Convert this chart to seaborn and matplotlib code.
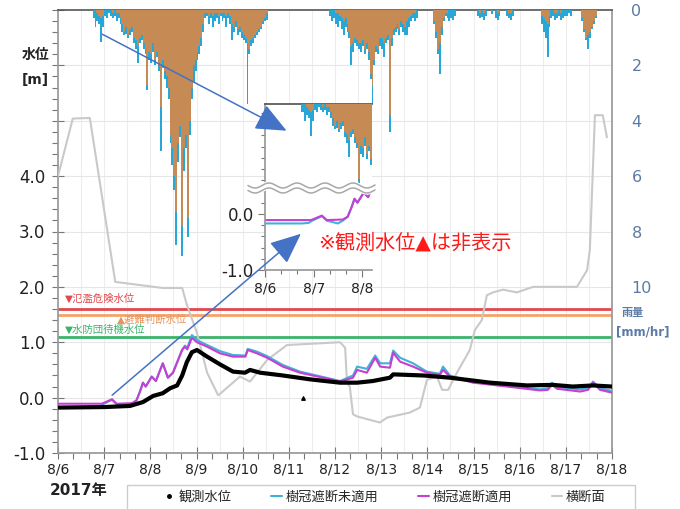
import numpy as np
import matplotlib
matplotlib.use('Agg')
import matplotlib.pyplot as plt
import seaborn as sns
from matplotlib.lines import Line2D
from matplotlib.patches import FancyArrowPatch, Rectangle
from matplotlib.ticker import MultipleLocator

day_labels = ['8/6', '8/7', '8/8', '8/9', '8/10', '8/11', '8/12',
              '8/13', '8/14', '8/15', '8/16', '8/17', '8/18']

# hourly rainfall [mm/hr], one row per day (8/6 ... 8/17)
rain_orange = [
    [0]*18 + [0, 0, 0.1, 0.2, 0.3, 0.2],
    [0, 0, 0, 0, 0.1, 0, 0.1, 0.1, 0.3, 0.5, 0.8, 0.6, 0.9, 0.7, 0.6, 1.0, 1.1, 1.3, 1.0, 0.9, 1.2, 1.4, 2.7, 1.5],
    [1.6, 1.2, 1.8, 1.5, 2.0, 3.5, 1.8, 2.2, 2.4, 2.8, 4.5, 5.0, 6.0, 7.3, 4.8, 4.2, 7.8, 5.0, 4.5, 7.5, 4.0, 2.8, 2.0, 1.8],
    [1.5, 1.3, 1.0, 0.5, 0.1, 0.1, 0.2, 0.1, 0.2, 0.1, 0.1, 0.2, 0.1, 0.1, 0.1, 0.2, 0.1, 0.2, 0.5, 0.6, 0.4, 0.7, 0.6, 0.8],
    [0.9, 1.0, 1.2, 1.4, 1.1, 1.0, 0.9, 0.8, 0.7, 0.6, 0.4, 0.3, 0.1] + [0]*11,
    [0]*24,
    [0.1, 0.1, 0.2, 0.3, 0.4, 0.3, 0.5, 0.8, 1.3, 1.2, 1.0, 1.1, 1.2, 1.2, 1.1, 1.4, 1.2, 1.5, 2.3, 2.7, 1.8, 1.3, 1.4, 1.0],
    [1.0, 1.2, 1.0, 0.9, 3.8, 1.0, 0.7, 0.6, 0.5, 0.7, 0.4, 0.5, 0.6, 0.4, 0.3, 0.2, 0.1, 0.1] + [0]*6,
    [0, 0, 0, 0.4, 0.8, 1.4, 1.2, 0.6, 0.3, 0.1, 0.1] + [0]*13,
    [0, 0, 0, 0.1, 0, 0.1, 0, 0, 0, 0, 0, 0, 0.1, 0, 0, 0, 0, 0, 0.1, 0.1, 0, 0, 0, 0],
    [0]*11 + [0.2, 0.3, 0.4, 0.5, 0.2, 0, 0, 0.1, 0.1, 0, 0.1, 0, 0],
    [0]*8 + [0.3, 0.7, 1.0, 0.9, 0.8, 0.6, 0.4, 0.2] + [0]*8,
]
rain_cyan = [
    [0]*18 + [0.3, 0.6, 0.4, 0.5, 1.15, 0.6],
    [0.2, 0.3, 0.1, 0.2, 0.3, 0.2, 0.4, 0.3, 0.5, 0.8, 0.9, 0.85, 1.0, 0.9, 0.8, 1.2, 1.4, 1.9, 1.2, 1.1, 1.4, 1.6, 2.9, 1.8],
    [1.9, 1.5, 2.0, 1.7, 2.2, 5.1, 2.1, 2.5, 2.8, 3.2, 4.8, 5.6, 6.5, 8.5, 5.5, 4.6, 8.9, 5.8, 5.0, 8.2, 4.5, 3.2, 2.6, 2.2],
    [1.8, 1.6, 1.3, 0.8, 0.3, 0.2, 0.5, 0.3, 0.6, 0.4, 0.3, 0.5, 0.2, 0.4, 0.3, 0.6, 0.3, 0.5, 1.1, 0.8, 0.6, 0.9, 0.8, 1.0],
    [1.1, 1.2, 3.4, 1.6, 1.3, 1.2, 1.0, 0.9, 0.8, 0.7, 0.5, 0.4, 0.35] + [0]*11,
    [0]*21 + [0.2, 0.4, 0.3],
    [0.5, 0.6, 0.4, 0.7, 0.9, 0.6, 0.8, 1.0, 2.0, 1.5, 1.2, 1.3, 1.4, 1.5, 1.3, 1.6, 1.4, 1.8, 2.5, 3.4, 2.0, 1.5, 1.6, 1.3],
    [1.4, 1.7, 1.2, 1.1, 4.4, 1.3, 0.9, 0.8, 0.7, 0.9, 0.6, 0.8, 0.9, 0.9, 0.6, 0.4, 0.3, 0.4, 0.3] + [0]*5,
    [0, 0, 0, 0.5, 1.0, 1.6, 2.3, 0.9, 0.4, 0.2, 0.3, 0.4, 0.3, 0.35, 0.2] + [0]*9,
    [0, 0, 0.2, 0.3, 0.25, 0.35, 0.2, 0, 0, 0.15, 0, 0.3, 0.35, 0.2, 0, 0, 0, 0.2, 0.3, 0.35, 0.2, 0, 0, 0],
    [0]*11 + [0.5, 0.8, 1.0, 1.7, 0.6, 0.3, 0.2, 0.35, 0.3, 0.2, 0.35, 0.3, 0.2],
    [0.2, 0.1, 0.2, 0, 0, 0, 0, 0, 0.4, 0.8, 1.1, 1.4, 1.0, 0.7, 0.5, 0.3] + [0]*8,
]

# water levels [m], time in days from 8/6 0:00
obs_t = [0, 1.02, 1.56, 1.84, 2.06, 2.27, 2.43, 2.58, 2.69, 2.79, 2.90, 3.01, 3.23, 3.51, 3.79,
         4.05, 4.16, 4.38, 4.87, 5.46, 6.11, 6.48, 6.82, 7.19, 7.26, 7.91, 8.49, 9.36, 10.16,
         10.72, 11.15, 11.59, 12.0]
obs_v = [-0.18, -0.17, -0.15, -0.08, 0.03, 0.08, 0.17, 0.22, 0.40, 0.64, 0.82, 0.86, 0.74, 0.60, 0.47,
         0.45, 0.50, 0.45, 0.40, 0.33, 0.27, 0.27, 0.30, 0.36, 0.42, 0.40, 0.36, 0.27, 0.22,
         0.23, 0.20, 0.22, 0.20]

obs_pt_t = [5.31]
obs_pt_v = [0.0]

tek_t = [0, 0.95, 1.17, 1.27, 1.6, 1.7, 1.78, 1.84, 1.9, 2.03, 2.12, 2.27, 2.38, 2.49, 2.69, 2.75,
         2.8, 2.9, 3.01, 3.23, 3.51, 3.79, 4.06, 4.11, 4.31, 4.53, 4.87, 5.24, 5.96, 6.11, 6.39,
         6.48, 6.69, 6.87, 6.98, 7.19, 7.26, 7.41, 7.69, 7.99, 8.27, 8.34, 8.49, 8.99, 9.73,
         10.44, 10.61, 10.70, 10.81, 11.31, 11.48, 11.59, 11.74, 12.0]
tek_v = [-0.11, -0.11, -0.03, -0.11, -0.10, -0.05, 0.12, 0.27, 0.20, 0.38, 0.30, 0.62, 0.36, 0.45, 0.86, 0.92,
         0.87, 1.08, 1.00, 0.92, 0.80, 0.74, 0.74, 0.86, 0.80, 0.72, 0.56, 0.45, 0.32, 0.29, 0.36,
         0.50, 0.45, 0.72, 0.56, 0.54, 0.81, 0.65, 0.56, 0.45, 0.41, 0.50, 0.38, 0.27, 0.20,
         0.13, 0.14, 0.23, 0.16, 0.11, 0.14, 0.27, 0.14, 0.09]

mi_t = [0, 0.76, 0.9, 0.97, 1.17, 1.27, 1.5, 1.6, 1.7, 1.78, 1.84, 1.9, 2.03, 2.12, 2.27, 2.38, 2.49,
        2.69, 2.75, 2.8, 2.9, 3.01, 3.23, 3.51, 3.79, 4.06, 4.11, 4.31, 4.53, 4.87, 5.24, 5.96,
        6.11, 6.39, 6.48, 6.69, 6.87, 6.98, 7.19, 7.26, 7.41, 7.69, 7.99, 8.27, 8.34, 8.49, 8.99,
        9.73, 10.44, 10.61, 10.70, 10.81, 11.31, 11.48, 11.59, 11.74, 12.0]
mi_v = [-0.17, -0.17, -0.16, -0.12, -0.04, -0.12, -0.17, -0.12, -0.05, 0.12, 0.27, 0.20, 0.38, 0.30, 0.62,
        0.36, 0.45, 0.87, 0.94, 0.90, 1.13, 1.04, 0.95, 0.84, 0.77, 0.76, 0.88, 0.83, 0.75, 0.59,
        0.47, 0.33, 0.30, 0.40, 0.56, 0.52, 0.76, 0.62, 0.62, 0.85, 0.72, 0.62, 0.47, 0.43, 0.56,
        0.40, 0.28, 0.21, 0.15, 0.17, 0.27, 0.19, 0.15, 0.17, 0.29, 0.17, 0.12]

# cross-section profile (drawn on the same axes)
cs_t = [0, 0.32, 0.69, 1.24, 2.27, 2.69, 2.79, 3.01, 3.23, 3.47, 3.94, 4.16, 4.53, 4.96, 6.11,
        6.22, 6.26, 6.32, 6.39, 6.48, 6.97, 7.13, 7.62, 7.84, 7.99, 8.21, 8.32, 8.45, 8.64,
        8.92, 9.03, 9.18, 9.29, 9.42, 9.64, 9.94, 10.29, 11.24, 11.46, 11.52, 11.63, 11.80, 11.89]
cs_v = [4.0, 5.04, 5.05, 2.09, 1.98, 1.98, 1.68, 1.17, 0.45, 0.04, 0.38, 0.29, 0.68, 0.95, 1.0,
        0.9, 0.27, 0.2, -0.3, -0.34, -0.45, -0.36, -0.27, -0.18, 0.32, 0.38, 0.14, 0.14, 0.45,
        0.86, 1.22, 1.4, 1.85, 1.9, 1.95, 1.9, 2.0, 2.0, 2.3, 2.67, 5.1, 5.1, 4.7]

levels = [1.6, 1.5, 1.1]
level_names = ['▼氾濫危険水位', '▲避難判断水位', '▼水防団待機水位']
level_colors = ['#e2474d', '#f3a468', '#3bb36b']

c_cyan_rain = '#27a6d8'
c_orange_rain = '#c68a55'
c_mi = '#3fb3d6'
c_tek = '#c63fd2'
c_cs = '#c9c9c9'

sns.set_theme(style='white')
plt.rcParams['font.family'] = ['DejaVu Sans', 'Noto Sans CJK JP']

W, H = 680, 509
def box(x0, y0, x1, y1):
    return [x0 / W, 1 - y1 / H, (x1 - x0) / W, (y1 - y0) / H]

fig = plt.figure(figsize=(6.8, 5.09), dpi=100)
ax = fig.add_axes(box(58, 10, 612, 453))

edges = np.arange(12 * 24 + 1) / 24
r_cyan = np.concatenate(rain_cyan)
r_orange = np.concatenate(rain_orange)

ax.set_xlim(0, 12)
ax.set_ylim(-1, 7)
for d in np.arange(0.5, 12, 0.5):
    ax.axvline(d, color='#ededed', lw=0.8, zorder=0)
for v in range(0, 7):
    ax.axhline(v, color='#e6e6e6', lw=0.8, zorder=0)

for lv, col in zip(levels, level_colors):
    ax.axhline(lv, color=col, lw=2, zorder=2)
ax.text(0.15, 1.78, level_names[0], color=level_colors[0], fontsize=7.5, va='center')
ax.text(1.28, 1.40, level_names[1], color='#e8945a', fontsize=7.5, va='center')
ax.text(0.15, 1.22, level_names[2], color=level_colors[2], fontsize=7.5, va='center')

sns.lineplot(x=cs_t, y=cs_v, ax=ax, color=c_cs, lw=1.5, estimator=None, sort=False, zorder=3)
sns.lineplot(x=mi_t, y=mi_v, ax=ax, color=c_mi, lw=1.5, estimator=None, sort=False, zorder=4)
sns.lineplot(x=tek_t, y=tek_v, ax=ax, color=c_tek, lw=1.5, estimator=None, sort=False, zorder=5)
sns.lineplot(x=obs_t, y=obs_v, ax=ax, color='black', lw=3, estimator=None, sort=False, zorder=6)
ax.scatter(obs_pt_t, obs_pt_v, marker='^', s=6, color='black', zorder=6)

ax.set_xticks(range(13))
ax.set_xticklabels(day_labels)
ax.xaxis.set_minor_locator(MultipleLocator(1 / 3))
ax.set_yticks(range(-1, 8))
ax.set_yticklabels(['-1.0', '0.0', '1.0', '2.0', '3.0', '4.0', '', '', ''])
ax.yaxis.set_minor_locator(MultipleLocator(0.2))
ax.tick_params(axis='y', which='major', direction='inout', length=8, width=0.8,
               color='#777777', labelsize=12, labelcolor='#222222', pad=5, left=True)
ax.tick_params(axis='y', which='minor', direction='out', length=4, width=0.8, color='#777777', left=True)
ax.tick_params(axis='x', which='major', direction='inout', length=8, width=0.8,
               color='#777777', labelsize=10, labelcolor='#222222', pad=3, bottom=True)
ax.tick_params(axis='x', which='minor', direction='out', length=4, width=0.8, color='#777777', bottom=True)
ax.set_xlabel('')
ax.set_ylabel('')
for s in ['left', 'bottom', 'right']:
    ax.spines[s].set_color('#999999')
ax.spines['top'].set_color('#555555')
ax.spines['top'].set_linewidth(1.2)

ax2 = ax.twinx()
ax2.stairs(r_cyan, edges, fill=True, color=c_cyan_rain, lw=0)
ax2.stairs(r_orange, edges, fill=True, color=c_orange_rain, lw=0)
ax2.set_ylim(16, 0)
ax2.set_yticks([0, 2, 4, 6, 8, 10])
ax2.tick_params(axis='y', length=0, labelsize=11.5, labelcolor='#5b7aa6', pad=14)
ax2.grid(False)
for s in ax2.spines.values():
    s.set_visible(False)

# inset (zoom of 8/6 - 8/8)
ax_in = fig.add_axes(box(265, 104, 372, 270))
ax_in.set_facecolor('white')
ax_in.set_xlim(0, 2.2)
ax_in.set_ylim(-1, 1.96)
sns.lineplot(x=mi_t, y=mi_v, ax=ax_in, color=c_mi, lw=1.5, estimator=None, sort=False)
sns.lineplot(x=tek_t, y=tek_v, ax=ax_in, color=c_tek, lw=1.5, estimator=None, sort=False)
ax_in.set_xticks([0, 1, 2])
ax_in.set_xticklabels(day_labels[:3])
ax_in.xaxis.set_minor_locator(MultipleLocator(1 / 3))
ax_in.set_yticks([-1, 0])
ax_in.set_yticklabels(['-1.0', '0.0'])
ax_in.yaxis.set_minor_locator(MultipleLocator(0.2))
ax_in.tick_params(axis='both', which='major', direction='out', length=5, width=0.8,
                  color='#777777', labelcolor='#222222', left=True, bottom=True)
ax_in.tick_params(axis='y', labelsize=12, pad=3)
ax_in.tick_params(axis='x', labelsize=10, pad=3)
ax_in.tick_params(axis='both', which='minor', direction='out', length=3, width=0.8,
                  color='#777777', left=True, bottom=True)
ax_in.spines['right'].set_visible(False)
for s in ['left', 'bottom']:
    ax_in.spines[s].set_color('#999999')
ax_in.spines['top'].set_color('#555555')
ax_in.grid(False)
ax_in.set_xlabel('')
ax_in.set_ylabel('')

ax_in2 = ax_in.twinx()
ax_in2.stairs(r_cyan, edges, fill=True, color=c_cyan_rain, lw=0)
ax_in2.stairs(r_orange, edges, fill=True, color=c_orange_rain, lw=0)
ax_in2.set_ylim(6, 0)
ax_in2.set_yticks([])
ax_in2.grid(False)
for s in ax_in2.spines.values():
    s.set_visible(False)

# wavy break mark across the inset
wx = np.linspace(248, 375, 300)
wy = 188 + 2.5 * np.sin((wx - 248) / 28 * 2 * np.pi)
fig.add_artist(Line2D(wx / W, 1 - wy / H, color='white', lw=6, transform=fig.transFigure))
for off in (-2.5, 2.5):
    fig.add_artist(Line2D(wx / W, 1 - (wy + off) / H, color='#a8a8a8', lw=1.1,
                          transform=fig.transFigure))

# arrows
for (x0, y0), (x1, y1) in [((100, 33), (289, 132)), ((110, 397), (303, 232))]:
    fig.add_artist(FancyArrowPatch((x0 / W, 1 - y0 / H), (x1 / W, 1 - y1 / H),
                                   transform=fig.transFigure, color='#4472c4', lw=1.1,
                                   arrowstyle='-|>,head_length=0.8,head_width=0.35',
                                   mutation_scale=24))

fig.text(318 / W, 1 - 243 / H, '※観測水位▲は非表示', color='#ff1a1a', fontsize=14.5,
         va='center', ha='left')

fig.text(22 / W, 1 - 55 / H, '水位', fontsize=10, fontweight='bold', color='#222222', va='center')
fig.text(22 / W, 1 - 80 / H, '[m]', fontsize=10, fontweight='bold', color='#222222', va='center')
fig.text(622 / W, 1 - 313 / H, '雨量', fontsize=8, fontweight='bold', color='#5b7aa6', va='center')
fig.text(616 / W, 1 - 332 / H, '[mm/hr]', fontsize=8.5, fontweight='bold', color='#5b7aa6', va='center')
fig.text(50 / W, 1 - 491 / H, '2017年', fontsize=11, fontweight='bold', color='#222222', va='center')

# legend (frame runs off the bottom edge as in the original)
fig.add_artist(Rectangle((127 / W, 1 - 520 / H), 508 / W, 35 / H, transform=fig.transFigure,
                         fill=False, edgecolor='#cccccc', lw=1))
handles = [Line2D([], [], marker='.', ls='none', color='black', markersize=5),
           Line2D([], [], color=c_mi, lw=1.5),
           Line2D([], [], color=c_tek, lw=1.5),
           Line2D([], [], color=c_cs, lw=1.5)]
labels = ['観測水位', '樹冠遮断未適用', '樹冠遮断適用', '横断面']
fig.legend(handles, labels, loc='center', bbox_to_anchor=(385 / W, 1 - 497 / H),
           ncol=4, fontsize=9.5, handlelength=0.8, handletextpad=0.3, columnspacing=3.0,
           frameon=False, borderpad=0.2)

fig.savefig('out.png', dpi=100)
